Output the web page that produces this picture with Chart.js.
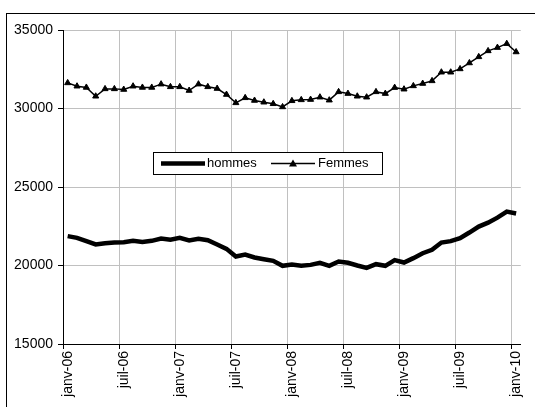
<!DOCTYPE html>
<html lang="fr">
<head>
  <meta charset="UTF-8">
  <title>Demandeurs d'emploi : hommes / femmes</title>
  <script src="https://cdn.jsdelivr.net/npm/chart.js"></script>
  <style>
    html, body {
      margin: 0;
      padding: 0;
      background: #fff;
      overflow: hidden;
    }
    canvas {
      display: block;
    }
  </style>
</head>
<body>
  <canvas id="chart" width="535" height="407"></canvas>

  <script>
    // Mois (janv-06 à janv-10)
    const mois = [
      "janv-06", "févr-06", "mars-06", "avr-06", "mai-06", "juin-06",
      "juil-06", "août-06", "sept-06", "oct-06", "nov-06", "déc-06",
      "janv-07", "févr-07", "mars-07", "avr-07", "mai-07", "juin-07",
      "juil-07", "août-07", "sept-07", "oct-07", "nov-07", "déc-07",
      "janv-08", "févr-08", "mars-08", "avr-08", "mai-08", "juin-08",
      "juil-08", "août-08", "sept-08", "oct-08", "nov-08", "déc-08",
      "janv-09", "févr-09", "mars-09", "avr-09", "mai-09", "juin-09",
      "juil-09", "août-09", "sept-09", "oct-09", "nov-09", "déc-09",
      "janv-10"
    ];

    const hommes = [
      21870, 21760, 21550, 21340, 21420, 21460, 21480, 21570, 21500, 21570, 21720, 21640,
      21760, 21590, 21700, 21610, 21340, 21060, 20570, 20700, 20510, 20400, 20300, 19980,
      20060, 19980, 20040, 20170, 19980, 20250, 20170, 20000, 19850, 20085, 19980, 20340,
      20190, 20470, 20780, 21000, 21460, 21550, 21740, 22100, 22480, 22730, 23050, 23430,
      23310
    ];

    const femmes = [
      31630, 31420, 31340, 30780, 31250, 31250, 31210, 31420, 31340, 31340, 31550, 31380,
      31380, 31145, 31550, 31380, 31270, 30890, 30360, 30680, 30510, 30400, 30300, 30100,
      30490, 30550, 30570, 30720, 30530, 31060, 30950, 30780, 30720, 31060, 30950, 31330,
      31230, 31440, 31590, 31760, 32310, 32310, 32520, 32900, 33290, 33670, 33880, 34130,
      33600
    ];

    const police = "'Liberation Sans', Arial, sans-serif";

    // cadre extérieur (coupé à droite et en bas comme l'original)
    const cadre = {
      id: "cadre",
      beforeDraw(chart) {
        const ctx = chart.ctx;
        ctx.save();
        ctx.fillStyle = "#fff";
        ctx.fillRect(0, 0, chart.width, chart.height);
        ctx.strokeStyle = "#000";
        ctx.lineWidth = 1;
        ctx.strokeRect(6.5, 13.5, 600, 600);
        ctx.restore();
      }
    };

    // légende dans la zone du graphique
    const legende = {
      id: "legende",
      afterDatasetsDraw(chart) {
        const ctx = chart.ctx;
        const x = 153, y = 152, w = 229, h = 22;
        ctx.save();
        ctx.fillStyle = "#fff";
        ctx.fillRect(x, y, w, h);
        ctx.strokeStyle = "#000";
        ctx.lineWidth = 1;
        ctx.strokeRect(x + 0.5, y + 0.5, w, h);

        const cy = y + h / 2 + 0.5;
        ctx.font = "13px " + police;
        ctx.fillStyle = "#000";
        ctx.textBaseline = "middle";

        // hommes
        ctx.lineWidth = 4.5;
        ctx.beginPath();
        ctx.moveTo(x + 8, cy);
        ctx.lineTo(x + 52, cy);
        ctx.stroke();
        ctx.fillText("hommes", x + 54, cy);

        // Femmes
        ctx.lineWidth = 1.5;
        ctx.beginPath();
        ctx.moveTo(x + 118, cy);
        ctx.lineTo(x + 162, cy);
        ctx.stroke();
        ctx.beginPath();
        ctx.moveTo(x + 140, cy - 4);
        ctx.lineTo(x + 144, cy + 3);
        ctx.lineTo(x + 136, cy + 3);
        ctx.closePath();
        ctx.fill();
        ctx.fillText("Femmes", x + 165, cy);
        ctx.restore();
      }
    };

    new Chart(document.getElementById("chart"), {
      type: "line",
      data: {
        labels: mois,
        datasets: [
          {
            label: "hommes",
            data: hommes,
            borderColor: "#000",
            borderWidth: 4.5,
            pointRadius: 0,
            tension: 0
          },
          {
            label: "Femmes",
            data: femmes,
            borderColor: "#000",
            backgroundColor: "#000",
            borderWidth: 1.5,
            pointStyle: "triangle",
            pointRadius: 3.5,
            pointBorderWidth: 1,
            pointBackgroundColor: "#000",
            tension: 0
          }
        ]
      },
      options: {
        responsive: false,
        animation: false,
        layout: { padding: { left: 8, right: 8, top: 30, bottom: 0 } },
        plugins: {
          legend: { display: false },
          tooltip: { enabled: false }
        },
        scales: {
          x: {
            offset: true,
            afterFit: (s) => { s.height = 63; },
            border: { color: "#000", width: 1 },
            grid: {
              offset: true,
              color: (c) => (c.index % 6 === 0 ? "#c0c0c0" : "rgba(0,0,0,0)"),
              tickColor: (c) => (c.index % 6 === 0 ? "#000" : "rgba(0,0,0,0)"),
              tickLength: 5
            },
            ticks: {
              autoSkip: false,
              minRotation: 90,
              maxRotation: 90,
              padding: 2,
              color: "#000",
              font: { family: police, size: 14 },
              callback: (v, i) => (i % 6 === 0 ? mois[i] : "")
            }
          },
          y: {
            min: 15000,
            max: 35000,
            afterFit: (s) => { s.width = 55; },
            border: { color: "#000", width: 1 },
            grid: {
              color: "#c0c0c0",
              tickColor: "#000",
              tickLength: 5
            },
            ticks: {
              stepSize: 5000,
              padding: 5,
              color: "#000",
              font: { family: police, size: 14 },
              callback: (v) => String(v)
            }
          }
        }
      },
      plugins: [cadre, legende]
    });
  </script>
</body>
</html>
